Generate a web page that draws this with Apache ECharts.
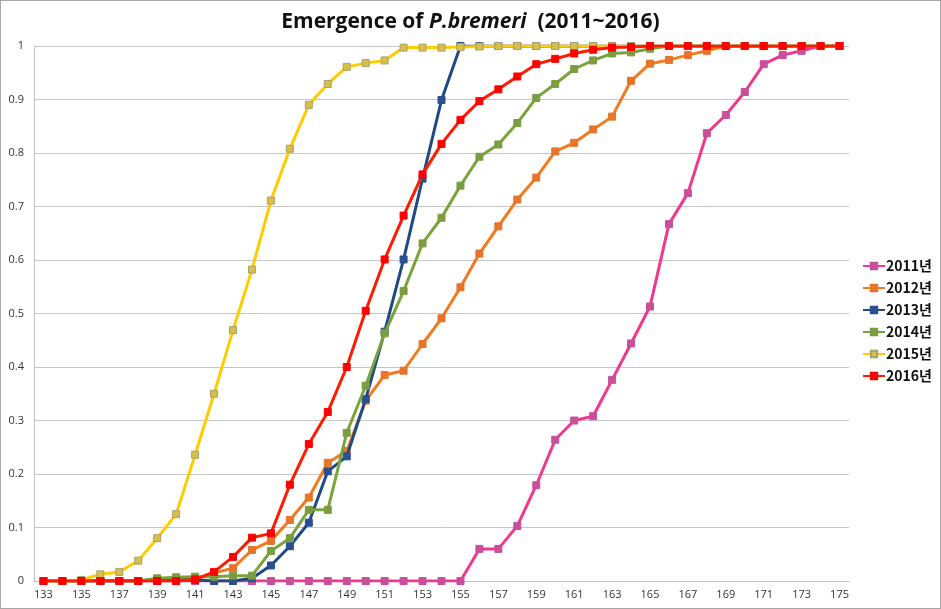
<!DOCTYPE html>
<html>
<head>
<meta charset="utf-8">
<script src="https://cdn.jsdelivr.net/npm/echarts@6/dist/echarts.min.js"></script>
<style>
  html, body { margin: 0; padding: 0; background: #fff; }
  #chart { width: 941px; height: 609px; box-sizing: border-box; border: 1px solid #a6a6a6; }
</style>
</head>
<body>
<div id="chart"></div>
<script>
// day of year, 133..175
const days = [];
for (let d = 133; d <= 175; d++) days.push(String(d));

const yTicks = [0, 0.1, 0.2, 0.3, 0.4, 0.5, 0.6, 0.7, 0.8, 0.9, 1];

const y2011 = [0, 0, 0, 0, 0, 0, 0, 0, 0, 0, 0, 0, 0, 0, 0, 0, 0, 0, 0, 0, 0, 0, 0,
  0.06, 0.06, 0.103, 0.179, 0.264, 0.300, 0.308, 0.376, 0.444, 0.513,
  0.667, 0.725, 0.837, 0.871, 0.914, 0.966, 0.983, 0.991, 1, 1];
const y2012 = [0, 0, 0, 0, 0, 0, 0.003, 0.003, 0.003, 0.015, 0.024, 0.058, 0.075, 0.114, 0.156,
  0.221, 0.243, 0.337, 0.385, 0.393, 0.443, 0.491, 0.549, 0.612, 0.663, 0.713, 0.754, 0.803,
  0.819, 0.844, 0.868, 0.935, 0.967, 0.974, 0.983, 0.991, 1, 1, 1, 1, 1, 1, 1];
const y2013 = [0, 0, 0, 0, 0, 0, 0.002, 0.002, 0.002, 0, 0, 0.005, 0.029, 0.065, 0.109,
  0.205, 0.233, 0.34, 0.466, 0.601, 0.752, 0.899, 1, 1, 1, 1, 1, 1, 1, 1, 1, 1, 1, 1, 1, 1,
  1, 1, 1, 1, 1, 1, 1];
const y2014 = [0, 0, 0, 0, 0, 0, 0.005, 0.007, 0.008, 0.008, 0.01, 0.01, 0.056, 0.08, 0.133,
  0.133, 0.277, 0.365, 0.463, 0.542, 0.631, 0.679, 0.739, 0.793, 0.816, 0.856, 0.903, 0.929,
  0.957, 0.973, 0.986, 0.988, 0.995, 1, 1, 1, 1, 1, 1, 1, 1, 1, 1];
const y2015 = [0, 0, 0.002, 0.0125, 0.017, 0.038, 0.08, 0.125, 0.236, 0.35, 0.469, 0.582, 0.711,
  0.808, 0.89, 0.929, 0.961, 0.968, 0.973, 0.997, 0.997, 0.997, 0.998, 0.999, 1, 1, 1, 1, 1,
  1, 1, 1, 1, 1, 1, 1, 1, 1, 1, 1, 1, 1, 1];
const y2016 = [0, 0, 0, 0, 0, 0, 0, 0, 0.003, 0.017, 0.045, 0.081, 0.089, 0.18, 0.256, 0.316,
  0.40, 0.505, 0.601, 0.683, 0.760, 0.817, 0.862, 0.897, 0.919, 0.943, 0.966, 0.976, 0.986,
  0.993, 0.997, 0.998, 1, 1, 1, 1, 1, 1, 1, 1, 1, 1, 1];

const seriesNames = ['2011년', '2012년', '2013년', '2014년', '2015년', '2016년'];
const seriesData = [y2011, y2012, y2013, y2014, y2015, y2016];
const lineColors = ['#f0388f', '#f47a20', '#1f4a84', '#7aa33c', '#ffcc00', '#ff1a00'];
const markerColors = ['#c8509a', '#e8742a', '#2a5090', '#7c9c40', '#d8c048', '#ff0000'];
const markerBorders = ['#c8509a', '#e8742a', '#2a5090', '#7c9c40', '#a8a070', '#ff0000'];

const chart = echarts.init(document.getElementById('chart'));

chart.setOption({
  animation: false,
  title: {
    text: '{n|Emergence of }{i|P.bremeri}{n|  (2011~2016)}',
    left: 'center',
    top: 6,
    textStyle: {
      rich: {
        n: { fontFamily: 'Open Sans', fontSize: 21, fontWeight: 'bold', color: '#111' },
        i: { fontFamily: 'Open Sans', fontSize: 21, fontWeight: 'bold', fontStyle: 'italic', color: '#111' },
      },
    },
  },
  legend: {
    orient: 'vertical',
    left: 856,
    top: 253,
    itemGap: 8,
    itemWidth: 22,
    itemHeight: 8,
    textStyle: {
      fontFamily: 'Noto Sans CJK KR',
      fontSize: 14,
      fontWeight: 'bold',
      color: '#111',
      padding: [0, 0, 0, -4],
    },
    data: seriesNames,
  },
  grid: {
    left: 33,
    right: 91,
    top: 45,
    bottom: 27,
  },
  xAxis: {
    type: 'category',
    data: days,
    boundaryGap: true,
    axisLine: { lineStyle: { color: '#bfbfbf' } },
    axisTick: { show: false },
    axisLabel: {
      interval: 1,
      color: '#333',
      fontFamily: 'Open Sans',
      fontSize: 11,
      margin: 8,
    },
  },
  yAxis: {
    type: 'value',
    min: 0,
    max: 1,
    interval: 0.1,
    axisLine: { show: true, lineStyle: { color: '#bfbfbf' } },
    axisTick: { show: false },
    axisLabel: {
      color: '#333',
      fontFamily: 'Open Sans',
      fontSize: 11,
      margin: 10,
      formatter: (v) => {
        const t = yTicks.find((k) => Math.abs(k - v) < 1e-6);
        return t === undefined ? '' : String(t);
      },
    },
    splitLine: { lineStyle: { color: '#c6c6c6' } },
  },
  series: seriesData.map((data, i) => ({
    name: seriesNames[i],
    type: 'line',
    data: data,
    symbol: 'rect',
    symbolSize: 7,
    showAllSymbol: true,
    lineStyle: { width: 3, color: lineColors[i] },
    itemStyle: { color: markerColors[i], borderColor: markerBorders[i], borderWidth: 1 },
    z: 2 + i,
  })),
});
</script>
</body>
</html>
